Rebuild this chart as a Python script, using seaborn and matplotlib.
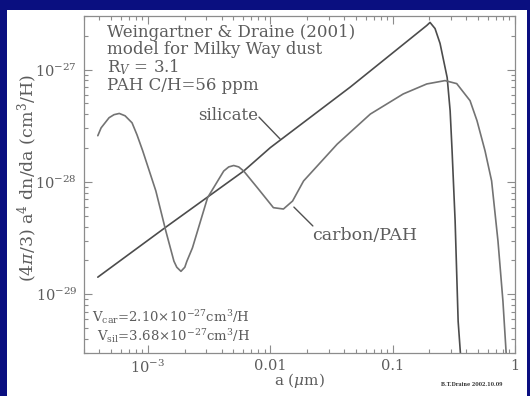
import numpy as np
import pandas as pd
import matplotlib
matplotlib.use("Agg")
import matplotlib.pyplot as plt
import seaborn as sns
from matplotlib.patches import Rectangle
from matplotlib.ticker import FixedLocator, FixedFormatter, LogLocator, NullFormatter

# ---- data (grain radius a in micron, (4pi/3) a^4 dn/da in cm^3/H) ----
sil_a = [3.89e-4, 1.40e-3, 6.06e-3, 1.00e-2, 4.51e-2, 0.190, 0.202, 0.222, 0.244,
         0.279, 0.295, 0.306, 0.324, 0.343, 0.362, 0.37]
sil_v = [1.42e-29, 3.96e-29, 1.25e-28, 2.02e-28, 7.0e-28, 2.47e-27, 2.63e-27, 2.32e-27, 1.71e-27,
         8.49e-28, 4.3e-28, 1.89e-28, 4.49e-29, 5.74e-30, 2.52e-30, 1.0e-30]

car_a = [3.89e-4, 4.14e-4, 4.81e-4, 5.28e-4, 5.83e-4, 6.50e-4, 7.41e-4, 8.13e-4, 9.06e-4,
         1.16e-3, 1.40e-3, 1.63e-3, 1.72e-3, 1.86e-3, 2.00e-3, 2.08e-3, 2.31e-3, 3.07e-3,
         4.16e-3, 4.57e-3, 5.02e-3, 5.52e-3, 6.06e-3, 7.83e-3, 1.06e-2, 1.28e-2,
         1.52e-2, 1.87e-2, 3.52e-2, 6.57e-2, 0.122, 0.190, 0.268, 0.334, 0.429, 0.489,
         0.569, 0.644, 0.726, 0.797, 0.855, 0.87]
car_v = [2.58e-28, 3.03e-28, 3.73e-28, 3.97e-28, 4.07e-28, 3.88e-28, 3.36e-28, 2.63e-28, 1.89e-28,
         8.31e-29, 3.65e-29, 1.97e-29, 1.74e-29, 1.60e-29, 1.74e-29, 1.97e-29, 2.59e-29, 7.24e-29,
         1.25e-28, 1.36e-28, 1.40e-28, 1.36e-28, 1.25e-28, 8.89e-29, 5.90e-29, 5.74e-29,
         6.76e-29, 1.02e-28, 2.17e-28, 4.02e-28, 6.07e-28, 7.45e-28, 7.98e-28, 7.50e-28, 5.29e-28,
         3.51e-28, 1.89e-28, 1.02e-28, 2.97e-29, 8.66e-30, 2.52e-30, 1.0e-30]

x_ticks = [1e-3, 1e-2, 1e-1, 1.0]
x_tick_labels = [r'$10^{-3}$', '0.01', '0.1', '1']
y_ticks = [1e-29, 1e-28, 1e-27]
y_tick_labels = [r'$10^{-29}$', r'$10^{-28}$', r'$10^{-27}$']

title_lines = ['Weingartner & Draine (2001)', 'model for Milky Way dust',
               r'R$_{V}$ = 3.1', 'PAH C/H=56 ppm']
vol_lines = [r'V$_{\rm car}$=2.10$\times$10$^{-27}$cm$^3$/H',
             r'V$_{\rm sil}$=3.68$\times$10$^{-27}$cm$^3$/H']

df = pd.concat([
    pd.DataFrame({'a': sil_a, 'v': sil_v, 'kind': 'silicate'}),
    pd.DataFrame({'a': car_a, 'v': car_v, 'kind': 'carbon/PAH'}),
], ignore_index=True)

sns.set_theme(style='ticks')
plt.rcParams['font.family'] = ['DejaVu Serif']
plt.rcParams['mathtext.fontset'] = 'dejavuserif'

W, H = 530, 396
fig = plt.figure(figsize=(W / 100, H / 100), dpi=100)
fig.patch.set_facecolor('#0a0f80')
fig.patches.append(Rectangle((7 / W, 0), 520 / W, 386 / H, transform=fig.transFigure,
                             facecolor='white', edgecolor='none', zorder=-5))

ax = fig.add_axes([84 / W, 1 - 353 / H, 431 / W, 337 / H])
ax.set_zorder(2)
ax.set_facecolor('white')
ax.set_xscale('log')
ax.set_yscale('log')

sns.lineplot(data=df, x='a', y='v', hue='kind', sort=False, estimator=None,
             palette={'silicate': '#4c4c4c', 'carbon/PAH': '#737373'},
             linewidth=1.2, legend=False, ax=ax)

ax.set_xlim(3e-4, 1.0)
ax.set_ylim(3e-30, 3e-27)
ax.set_xlabel('')
ax.set_ylabel('')

frame_c = '#8c8c8c'
text_c = '#5c5c5c'
for s in ax.spines.values():
    s.set_color(frame_c)
    s.set_linewidth(0.9)
    s.set_visible(True)

ax.xaxis.set_major_locator(FixedLocator(x_ticks))
ax.xaxis.set_major_formatter(FixedFormatter(x_tick_labels))
ax.yaxis.set_major_locator(FixedLocator(y_ticks))
ax.yaxis.set_major_formatter(FixedFormatter(y_tick_labels))
ax.xaxis.set_minor_locator(LogLocator(base=10, subs=np.arange(2, 10), numticks=20))
ax.yaxis.set_minor_locator(LogLocator(base=10, subs=np.arange(2, 10), numticks=20))
ax.xaxis.set_minor_formatter(NullFormatter())
ax.yaxis.set_minor_formatter(NullFormatter())
ax.tick_params(which='both', direction='in', top=True, right=True, color=frame_c,
               labelcolor=text_c, width=0.8)
ax.tick_params(which='major', length=6, labelsize=10.5)
ax.tick_params(axis='x', which='major', pad=4)
ax.tick_params(axis='y', which='major', pad=5)
ax.tick_params(which='minor', length=3)

# text block top-left
ys = [0.950, 0.902, 0.849, 0.795]
for t, yy in zip(title_lines, ys):
    ax.text(0.053, yy, t, transform=ax.transAxes, ha='left', va='center',
            fontsize=12, color=text_c)

# volumes bottom-left
for t, yy in zip(vol_lines, [0.107, 0.050]):
    ax.text(0.385, yy, t, transform=ax.transAxes, ha='right', va='center',
            fontsize=9.5, color=text_c)

# curve labels with leader lines
ax.text(0.334, 0.706, 'silicate', transform=ax.transAxes, ha='center', va='center',
        fontsize=12, color=text_c)
ax.annotate('', xy=(0.455, 0.635), xycoords='axes fraction',
            xytext=(0.406, 0.700), textcoords='axes fraction',
            arrowprops=dict(arrowstyle='-', color='#505050', lw=1.0, shrinkA=0, shrinkB=0))
ax.text(0.652, 0.350, 'carbon/PAH', transform=ax.transAxes, ha='center', va='center',
        fontsize=12.5, color=text_c)
ax.annotate('', xy=(0.487, 0.433), xycoords='axes fraction',
            xytext=(0.531, 0.377), textcoords='axes fraction',
            arrowprops=dict(arrowstyle='-', color='#505050', lw=1.0, shrinkA=0, shrinkB=0))

# axis labels
fig.text(27 / W, 1 - 178 / H, r'(4$\pi$/3) a$^4$ dn/da (cm$^3$/H)', rotation=90,
         ha='center', va='center', fontsize=12.5, color=text_c)
fig.text(300 / W, 1 - 380 / H, r'a ($\mu$m)', ha='center', va='center',
         fontsize=11, color=text_c)
fig.text(472 / W, 1 - 384 / H, 'B.T.Draine 2002.10.09', ha='center', va='center',
         fontsize=3.5, color='#333333', fontweight='bold')

fig.savefig('out.png', dpi=100, facecolor=fig.get_facecolor())
